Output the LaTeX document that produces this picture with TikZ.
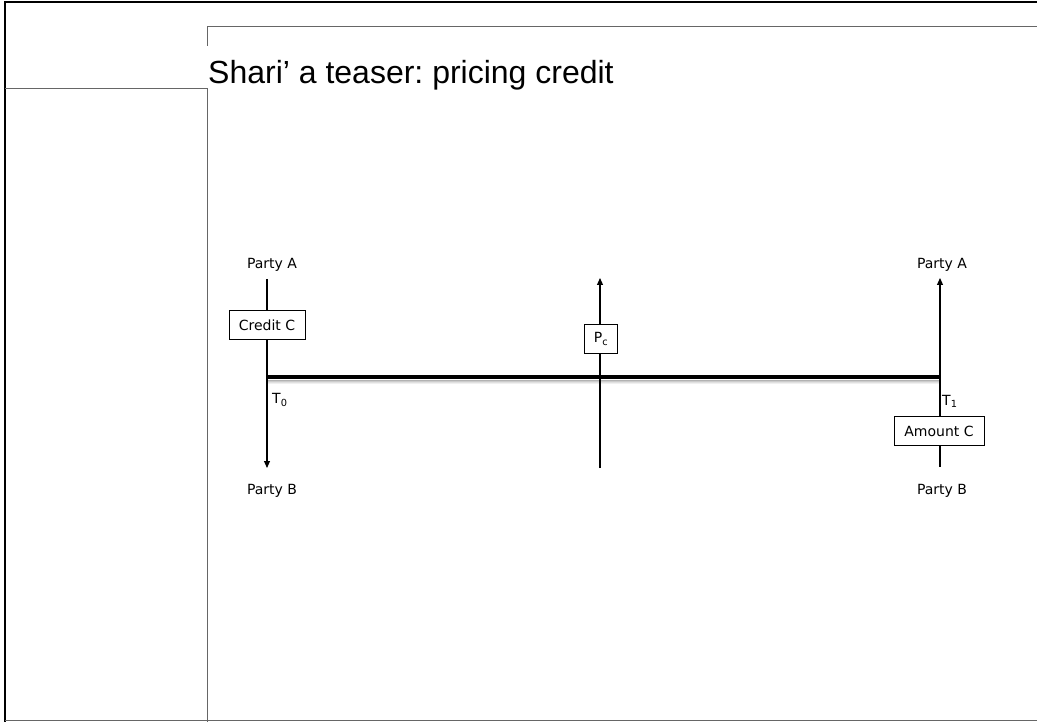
\documentclass[tikz,border=0pt]{standalone}
\usepackage{fontspec}
\setmainfont{DejaVu Sans}
\newfontfamily\titlefont{Liberation Sans}
\usetikzlibrary{arrows.meta}
\begin{document}
\frenchspacing
\begin{tikzpicture}[x=1pt,y=-1pt,
  lbl/.style={font=\fontsize{14}{16}\selectfont, inner sep=0pt},
  valbox/.style={draw, line width=0.7pt, fill=white, font=\fontsize{14}{16}\selectfont, minimum height=29pt, inner xsep=8pt},
  flow/.style={line width=1.1pt, -{Triangle[length=7pt,width=6pt]}},
  plain/.style={line width=1.1pt},
  frame/.style={line width=1pt, draw=black!60}]
\useasboundingbox (0,0) rectangle (1037,722);
% frame
\draw[line width=2pt] (5,722) -- (5,2) -- (1037,2);
\draw[frame] (5,720) -- (1037,720);
\draw[frame] (5,89) -- (207,89) -- (207,722);
\draw[frame] (207,46) -- (207,27) -- (1037,27);
\node[anchor=base west, inner sep=0pt, font=\titlefont\fontsize{32}{38}\selectfont] (title) at (208,84) {Shari’ a teaser: pricing credit};
% coordinates
\coordinate (t0) at (267,377);
\coordinate (t1) at (940,377);
\coordinate (mtop) at (600,278);
\coordinate (mbot) at (600,468);
\coordinate (lbot) at (267,468);
\coordinate (ltop) at (267,279);
\coordinate (rtop) at (940,278);
\coordinate (rbot) at (940,467);
% labels
\node[lbl] (pa0) at (272,265) {Party A};
\node[lbl] (pb0) at (272,491) {Party B};
\node[lbl] (pa1) at (942,265) {Party A};
\node[lbl] (pb1) at (942,491) {Party B};
% shadow of timeline
\foreach \d/\o in {1/0.30,2/0.20,3/0.12,4/0.06}{
  \draw[line width=1pt, black, opacity=\o] (267,379+\d) -- (940,379+\d);
}
% arrows
\draw[flow] (ltop) -- (lbot);
\draw[flow] (mbot) -- (mtop);
\draw[flow] (t1) -- (rtop);
\draw[plain] (t1) -- (940,416);
% timeline
\draw[line width=4pt] (t0) -- (t1);
% boxes
\node[valbox, minimum width=76pt] (credit) at (267,325) {Credit C};
\node[valbox, minimum width=33pt, inner xsep=3pt] (pc) at (601,339) {P\textsubscript{c}};
\node[valbox, minimum width=90pt] (amount) at (939,431) {Amount C};
\draw[plain] (amount.south -| t1) -- (rbot);
% time labels
\node[lbl, anchor=west] (T0) at (272,400) {T\textsubscript{0}};
\node[lbl, anchor=west] (T1) at (942,401) {T\textsubscript{1}};
\end{tikzpicture}
\end{document}
